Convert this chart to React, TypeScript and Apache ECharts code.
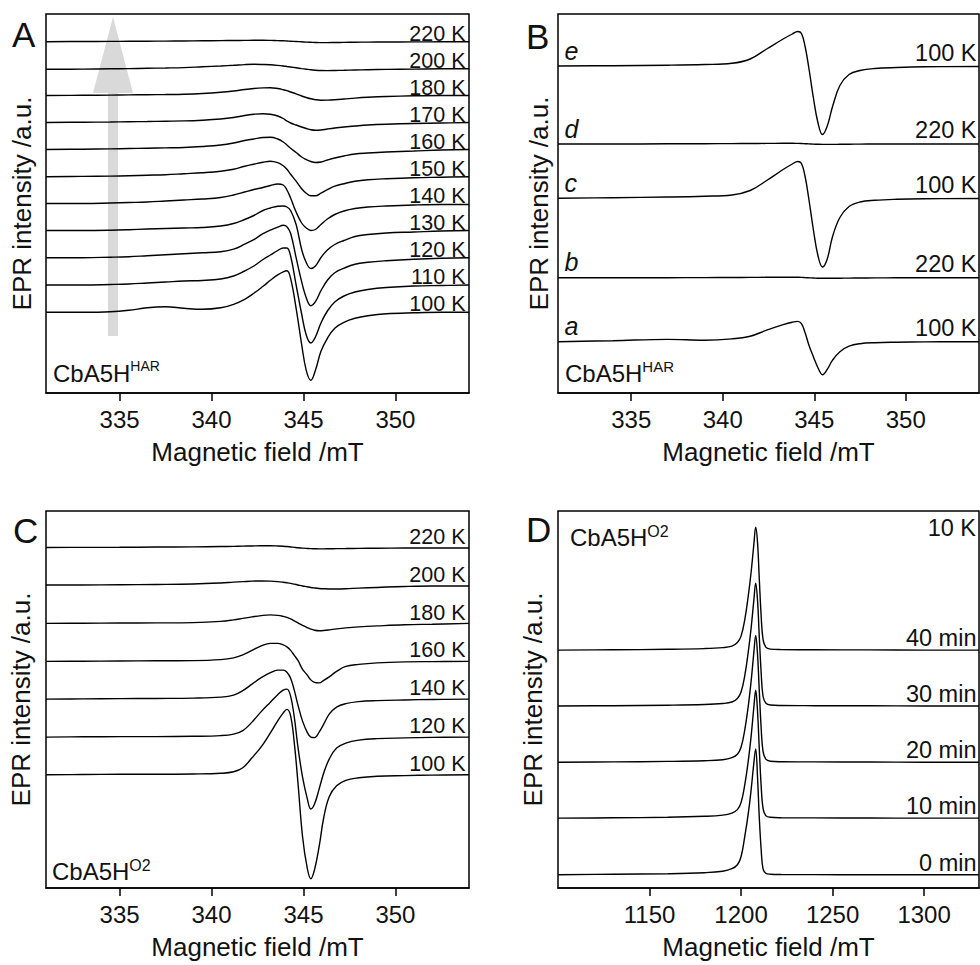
import { useEffect, useRef } from 'react';
import * as echarts from 'echarts';

const FONT = "'Liberation Sans', Arial, Helvetica, sans-serif";
const INK = '#111111';

// ---------------- Panel A (CbA5H HAR, temperature series) ----------------
const fieldA = [331, 333, 334.5, 335.5, 336.5, 337.5, 338.5, 339.5, 340.5, 341.2, 341.8, 342.3, 342.8, 343.2, 343.6, 343.9, 344.1, 344.3, 344.6, 344.9, 345.15, 345.4, 345.65, 345.95, 346.3, 346.7, 347.2, 347.8, 348.5, 349.5, 351, 352.5, 354];
const labelsA = ['220 K', '200 K', '180 K', '170 K', '160 K', '150 K', '140 K', '130 K', '120 K', '110 K', '100 K'];
const offsetsA = [351.3, 324.2, 297.5, 270.5, 243.5, 216.3, 189, 162.5, 135.3, 108, 80.7];
const a220 = [0, 0.2, 0.3, 0.4, 0.5, 0.6, 0.7, 0.9, 1.1, 1.2, 1.3, 1.4, 1.4, 1.3, 1.1, 0.9, 0.7, 0.5, 0.2, -0.1, -0.4, -0.6, -0.8, -0.9, -0.9, -0.8, -0.7, -0.5, -0.4, -0.3, -0.2, -0.1, 0];
const a200 = [-0.5, -0.3, 0, 0.2, 0.5, 0.8, 1.2, 2, 2.8, 3.5, 4.2, 4.5, 4.3, 4, 3.4, 2.8, 2.3, 1.8, 1, 0.2, -0.4, -1, -1.4, -1.7, -1.8, -1.7, -1.5, -1.2, -0.9, -0.6, -0.3, 0, 0];
const a180 = [0, 0.2, 0.4, 0.6, 0.8, 1, 1.3, 2, 3.2, 4.5, 6, 7, 7.6, 7.8, 7, 5.8, 4.8, 3.5, 1.6, -0.5, -2, -3.3, -4.2, -4.7, -4.6, -4.2, -3.5, -2.6, -1.8, -1, -0.3, 0, 0];
const a170 = [0, 0.3, 0.5, 0.8, 1, 1.3, 1.6, 2.3, 3.5, 5, 7, 8.2, 8.8, 8.2, 6.5, 4, 1.5, -0.5, -2.5, -4.5, -6, -7.3, -7.8, -7.5, -6.5, -5.5, -4.5, -3.5, -2.5, -1.7, -1, -0.5, 0];
const a160 = [0, 0.3, 0.6, 1, 1.3, 1.6, 2, 3, 4.5, 6.5, 9, 10.5, 12, 12.3, 10.5, 7.5, 4.5, 1.2, -3, -7.5, -10, -12, -13, -12.5, -10.5, -8.5, -6.5, -4.5, -3.5, -2.5, -1.5, -0.5, 0];
const a150 = [0, 0.3, 0.6, 1, 1.5, 2, 3, 4, 5.5, 7.5, 10.5, 12.5, 14.5, 15.5, 14, 11, 7.5, 2.5, -4.5, -12, -16.5, -19, -19, -16.5, -13, -9.5, -7, -4.5, -3, -2, -1, -0.5, 0];
const a140 = [0.5, 0.5, 1, 1.5, 2, 3, 4, 5, 6.5, 9, 12, 14.5, 16.5, 18.5, 20, 19, 14, 6, -8, -19, -24, -26.5, -25.5, -20.5, -15, -10.5, -7, -4.5, -3, -2, -1, -0.5, -0.5];
const a130 = [0, 0, 0.3, 0.8, 1.5, 2, 2.5, 3, 4.5, 7, 11, 15, 20, 22.5, 24.3, 24.5, 23.5, 20, 6, -19, -32, -38, -35.5, -27, -19.5, -14, -10, -6, -4, -2.5, -1.5, -0.5, 0];
const a120 = [0, 0, 0.5, 1, 2, 3, 4, 5, 6, 8.5, 13.5, 18, 24, 27.5, 30.5, 32.5, 31, 24.5, 0, -24, -40, -48, -44, -33, -22.5, -15, -10.5, -6.5, -4.5, -3, -1.5, -0.5, 0];
const a110 = [0, 0, 0.5, 1, 2, 3, 4, 4.5, 6, 9, 14, 19, 25.5, 30, 34.5, 37, 37, 29, 0, -29, -50, -58, -52, -38, -26, -17, -11, -7, -4.5, -2.5, -1, -0.5, 0];
const a100 = [0, 0, 0.5, 2, 4.5, 5.5, 4, 3, 4.5, 8, 13, 19, 26, 32, 37.5, 40.5, 41.5, 34, 4, -32, -58, -68, -58, -39, -26, -16, -10, -6, -3.5, -1.5, -0.5, 0, 0];
const curvesA = [a220, a200, a180, a170, a160, a150, a140, a130, a120, a110, a100];

// ---------------- Panel B (a–e) ----------------
const fieldB = [331, 334, 337, 339, 340.5, 341.5, 342.4, 343.3, 343.8, 344.1, 344.3, 344.5, 344.7, 344.95, 345.2, 345.45, 345.7, 346.0, 346.4, 346.9, 347.5, 348.3, 349.5, 351, 354];
const labelsB = ['100 K', '220 K', '100 K', '220 K', '100 K'];
const lettersB = ['e', 'd', 'c', 'b', 'a'];
const offsetsB = [326.5, 249, 194.5, 115.2, 51.3];
const bE = [0.5, 0.8, 1.3, 2, 3.2, 7.5, 17.5, 27.5, 32.5, 35, 33, 20, -1, -31, -56, -68, -60, -40, -19, -8, -4, -2, -1, -0.3, 0];
const bD = [0, 0, 0.2, 0.3, 0.4, 0.5, 0.6, 0.7, 0.7, 0.6, 0.5, 0.3, 0.1, -0.1, -0.3, -0.4, -0.4, -0.4, -0.3, -0.2, -0.1, 0, 0, 0, 0];
const bC = [0.3, 0.8, 1.5, 2.3, 3.5, 8, 18, 29, 34.5, 37, 35, 22, 0, -31, -57, -68.5, -61, -38, -19, -8, -3.5, -1.8, -0.8, -0.3, 0];
const bB = [0, 0, 0.1, 0.2, 0.3, 0.4, 0.5, 0.6, 0.6, 0.5, 0.4, 0.2, 0, -0.2, -0.4, -0.5, -0.5, -0.5, -0.4, -0.3, -0.2, -0.1, 0, 0, 0];
const bA = [0, 1, 2.3, 1.5, 2.8, 5.5, 11.5, 17, 19.5, 20.3, 18, 9, -3, -15, -26, -33, -28, -18.5, -10, -4.5, -2, -1, -0.5, -0.2, 0];
const curvesB = [bE, bD, bC, bB, bA];

// ---------------- Panel C (CbA5H O2, temperature series) ----------------
const fieldC = [331, 333, 335, 337, 339, 340.5, 341.2, 341.7, 342.2, 342.7, 343.2, 343.6, 343.9, 344.1, 344.3, 344.5, 344.7, 344.95, 345.2, 345.4, 345.6, 345.85, 346.1, 346.4, 346.8, 347.3, 348, 349, 350.5, 352, 354];
const labelsC = ['220 K', '200 K', '180 K', '160 K', '140 K', '120 K', '100 K'];
const offsetsC = [340.3, 302.3, 264.3, 226.8, 189, 151, 113.3];
const c220 = [0.5, 0.6, 0.7, 0.9, 1.1, 1.4, 1.6, 1.8, 2, 2.2, 2.2, 2, 1.7, 1.4, 1, 0.6, 0.2, -0.2, -0.5, -0.7, -0.8, -0.9, -0.9, -0.8, -0.7, -0.6, -0.4, -0.3, -0.1, 0, 0];
const c200 = [1, 1, 1.2, 1.5, 2, 3, 3.8, 4.3, 4.8, 5, 4.8, 4.3, 3.7, 3.2, 2.6, 1.8, 1, 0, -0.8, -1.5, -2, -2.5, -2.8, -3, -3, -2.8, -2.2, -1.5, -0.5, 0, 0];
const c180 = [0.5, 0.7, 0.9, 1, 1.3, 2.5, 4, 5.5, 7, 8.3, 9, 8.5, 7.5, 6.5, 5, 3, 1, -1.5, -3.8, -5.3, -6.3, -6.8, -6.6, -6, -5, -4, -3, -2, -0.8, -0.3, 0.5];
const c160 = [0, 0.2, 0.4, 0.6, 0.8, 1.8, 3.5, 6.5, 11, 15.5, 18, 18, 16.5, 14.5, 11, 6, 1, -8, -13.5, -18.5, -21, -21.5, -19, -15.5, -10, -5, -3, -1.5, -0.5, -0.2, 0];
const c140 = [0, 0.3, 0.5, 0.7, 1, 2, 4, 8.5, 15, 21.5, 26.5, 29, 29, 27, 21, 9, -6, -22, -33, -38, -38.5, -33, -25, -15, -8, -4.5, -2.5, -1.5, -0.8, -0.3, 0];
const c120 = [0, 0.3, 0.5, 0.5, 0.8, 1.5, 3, 6.5, 15, 25.5, 35, 42.5, 47, 48, 41, 20, -10, -40, -61, -72, -67, -52, -36, -22, -11, -6, -3, -1.5, -0.8, -0.3, 0];
const c100 = [0, 0.3, 0.5, 0.5, 0.8, 1.5, 3, 7, 17, 28, 42, 54, 62, 65.5, 59, 32, -8, -62, -93, -104, -95, -72, -43, -22, -11, -5.5, -3, -1.5, -0.8, -0.3, 0];
const curvesC = [c220, c200, c180, c160, c140, c120, c100];

// ---------------- Panel D (CbA5H O2, 10 K, time series) ----------------
const fieldD = [1100, 1130, 1160, 1180, 1190, 1195, 1198, 1200, 1202, 1204, 1205.5, 1207, 1208, 1209, 1210, 1211, 1212, 1213.5, 1216, 1222, 1240, 1270, 1300, 1330];
const labelsD = ['40 min', '30 min', '20 min', '10 min', '0 min'];
const offsetsD = [238.3, 182.3, 126, 70, 13.3];
const d40 = [0, 0.3, 0.8, 1.5, 2.5, 4, 7.5, 14, 30, 55, 78, 106, 123, 108, 70, 34, 11, 3, 1, 0.5, 0.3, 0.2, 0, 0];
const d30 = [0, 0.3, 0.8, 1.5, 2.5, 4, 7.5, 14, 30, 55, 78, 106, 123, 106, 68, 33, 10, 3, 1, 0.5, 0.3, 0.2, 0, 0];
const d20 = [0, 0.3, 0.8, 1.5, 2.5, 4.5, 8, 15, 32, 57, 81, 110, 127, 108, 70, 34, 11, 3, 1, 0.5, 0.3, 0.2, 0, 0];
const d10 = [0, 0.3, 0.8, 1.8, 3, 5, 8.5, 15.5, 33, 58, 82, 111, 128, 107, 68, 32, 10, 2.5, 0.8, 0.4, 0.2, 0.1, 0, 0];
const d0 = [0, 0.5, 1, 2, 3.5, 6, 10, 18, 38, 62, 85, 112, 126, 98, 56, 25, 6, 1.5, 0.5, 0.2, 0.1, 0, 0, 0];
const curvesD = [d40, d30, d20, d10, d0];

const ticksMT = [335, 340, 345, 350];
const ticksD = [1150, 1200, 1250, 1300];

const grids = [
  { left: 46, top: 14, width: 423, height: 379 },
  { left: 558, top: 14, width: 421, height: 379 },
  { left: 46, top: 511, width: 423, height: 377 },
  { left: 558, top: 511, width: 421, height: 377 },
];

function xAxisCfg(gridIndex: number, min: number, max: number, ticks: number[]) {
  return {
    type: 'value',
    gridIndex,
    min,
    max,
    name: 'Magnetic field /mT',
    nameLocation: 'middle',
    nameGap: 46,
    nameTextStyle: { fontSize: 26, color: INK, fontFamily: FONT },
    axisLine: { show: true, onZero: false, lineStyle: { color: '#000', width: 1.5 } },
    axisTick: { show: true, inside: false, length: 8, customValues: ticks, lineStyle: { color: '#000', width: 1.5 } },
    axisLabel: {
      show: true,
      margin: 14,
      fontSize: 24,
      color: INK,
      fontFamily: FONT,
      customValues: ticks,
      formatter: (v: number) => String(v),
    },
    splitLine: { show: false },
  };
}

function yAxisCfg(gridIndex: number, max: number, gap: number) {
  return {
    type: 'value',
    gridIndex,
    min: 0,
    max,
    name: 'EPR intensity /a.u.',
    nameLocation: 'middle',
    nameGap: gap,
    nameTextStyle: { fontSize: 26, color: INK, fontFamily: FONT },
    axisLine: { show: false },
    axisTick: { show: false },
    axisLabel: { show: false },
    splitLine: { show: false },
  };
}

function lineSeries(g: number, field: number[], offsets: number[], curves: number[][]) {
  return curves.map((c, i) => ({
    type: 'line',
    xAxisIndex: g,
    yAxisIndex: g,
    data: field.map((f, j) => [f, offsets[i] + c[j]]),
    showSymbol: false,
    symbol: 'none',
    smooth: 0.4,
    silent: true,
    z: 3,
    lineStyle: { color: '#000', width: 1.4 },
  }));
}

function labelSeries(g: number, x: number, offsets: number[], labels: string[], pos: string, dist: number, dy: number, size: number, italic = false) {
  return {
    type: 'scatter',
    xAxisIndex: g,
    yAxisIndex: g,
    clip: false,
    silent: true,
    symbolSize: 1,
    z: 4,
    itemStyle: { color: 'rgba(255,255,255,0)' },
    data: labels.map((l, i) => ({ value: [x, offsets[i]], name: l })),
    label: {
      show: true,
      position: pos,
      distance: dist,
      offset: [0, dy],
      formatter: '{b}',
      fontSize: size,
      fontStyle: italic ? 'italic' : 'normal',
      color: INK,
      opacity: 1,
      textBorderWidth: 0,
      fontFamily: FONT,
    },
  };
}

function compoundLabel(x: number, y: number, sup: string, mainSize: number, supSize: number) {
  return {
    type: 'text',
    x,
    y,
    silent: true,
    style: {
      text: `{m|CbA5H}{s|${sup}}`,
      verticalAlign: 'middle',
      align: 'left',
      rich: {
        m: { fontSize: mainSize, lineHeight: 28, fontFamily: FONT, fill: INK },
        s: { fontSize: supSize, lineHeight: supSize, verticalAlign: 'top', fontFamily: FONT, fill: INK },
      },
    },
  };
}

function bigLetter(t: string, x: number, y: number) {
  return {
    type: 'text',
    x,
    y,
    silent: true,
    style: { text: t, fontSize: 35, fontFamily: FONT, fill: INK, align: 'left', verticalAlign: 'middle' },
  };
}

export default function App() {
  const ref = useRef<HTMLDivElement>(null);
  useEffect(() => {
    if (!ref.current) return;
    const chart = echarts.init(ref.current, undefined, { renderer: 'svg' });
    const option: any = {
      animation: false,
      backgroundColor: '#ffffff',
      grid: grids.map((g) => ({ ...g, show: true, borderColor: '#000', borderWidth: 1.5, backgroundColor: 'transparent' })),
      xAxis: [
        xAxisCfg(0, 331, 354, ticksMT),
        xAxisCfg(1, 331, 354, ticksMT),
        xAxisCfg(2, 331, 354, ticksMT),
        xAxisCfg(3, 1100, 1330, ticksD),
      ],
      yAxis: [yAxisCfg(0, 379, 11), yAxisCfg(1, 379, 6), yAxisCfg(2, 377.3, 12), yAxisCfg(3, 377.6, 12)],
      series: [
        ...lineSeries(0, fieldA, offsetsA, curvesA),
        ...lineSeries(1, fieldB, offsetsB, curvesB),
        ...lineSeries(2, fieldC, offsetsC, curvesC),
        ...lineSeries(3, fieldD, offsetsD, curvesD),
        labelSeries(0, 354, offsetsA, labelsA, 'left', 3, -8, 21.5),
        labelSeries(1, 354, offsetsB, labelsB, 'left', 2, -14, 23.5),
        labelSeries(1, 331, offsetsB, lettersB, 'right', 6, -15.5, 25, true),
        labelSeries(2, 354, offsetsC, labelsC, 'left', 3, -11, 21.5),
        labelSeries(3, 1330, offsetsD, labelsD, 'left', 2, -12, 23.5),
      ],
      graphic: [
        {
          type: 'polygon',
          z: 1,
          silent: true,
          shape: { points: [[108, 336], [118, 336], [118, 93], [133, 93], [113, 17], [93, 93], [108, 93]] },
          style: { fill: '#d9d9d9' },
        },
        bigLetter('A', 12, 34),
        bigLetter('B', 526, 36),
        bigLetter('C', 13, 530),
        bigLetter('D', 526, 529),
        compoundLabel(53, 373, 'HAR', 24, 14),
        compoundLabel(565, 373, 'HAR', 24, 15),
        compoundLabel(52, 871, 'O2', 24, 16),
        compoundLabel(570, 537, 'O2', 24, 16),
        {
          type: 'text',
          x: 976,
          y: 527.5,
          silent: true,
          style: { text: '10 K', fontSize: 23.5, fontFamily: FONT, fill: INK, align: 'right', verticalAlign: 'middle' },
        },
      ],
    };
    chart.setOption(option);
    return () => chart.dispose();
  }, []);
  return <div ref={ref} style={{ position: 'fixed', left: 0, top: 0, width: 980, height: 965, background: '#fff' }} />;
}
